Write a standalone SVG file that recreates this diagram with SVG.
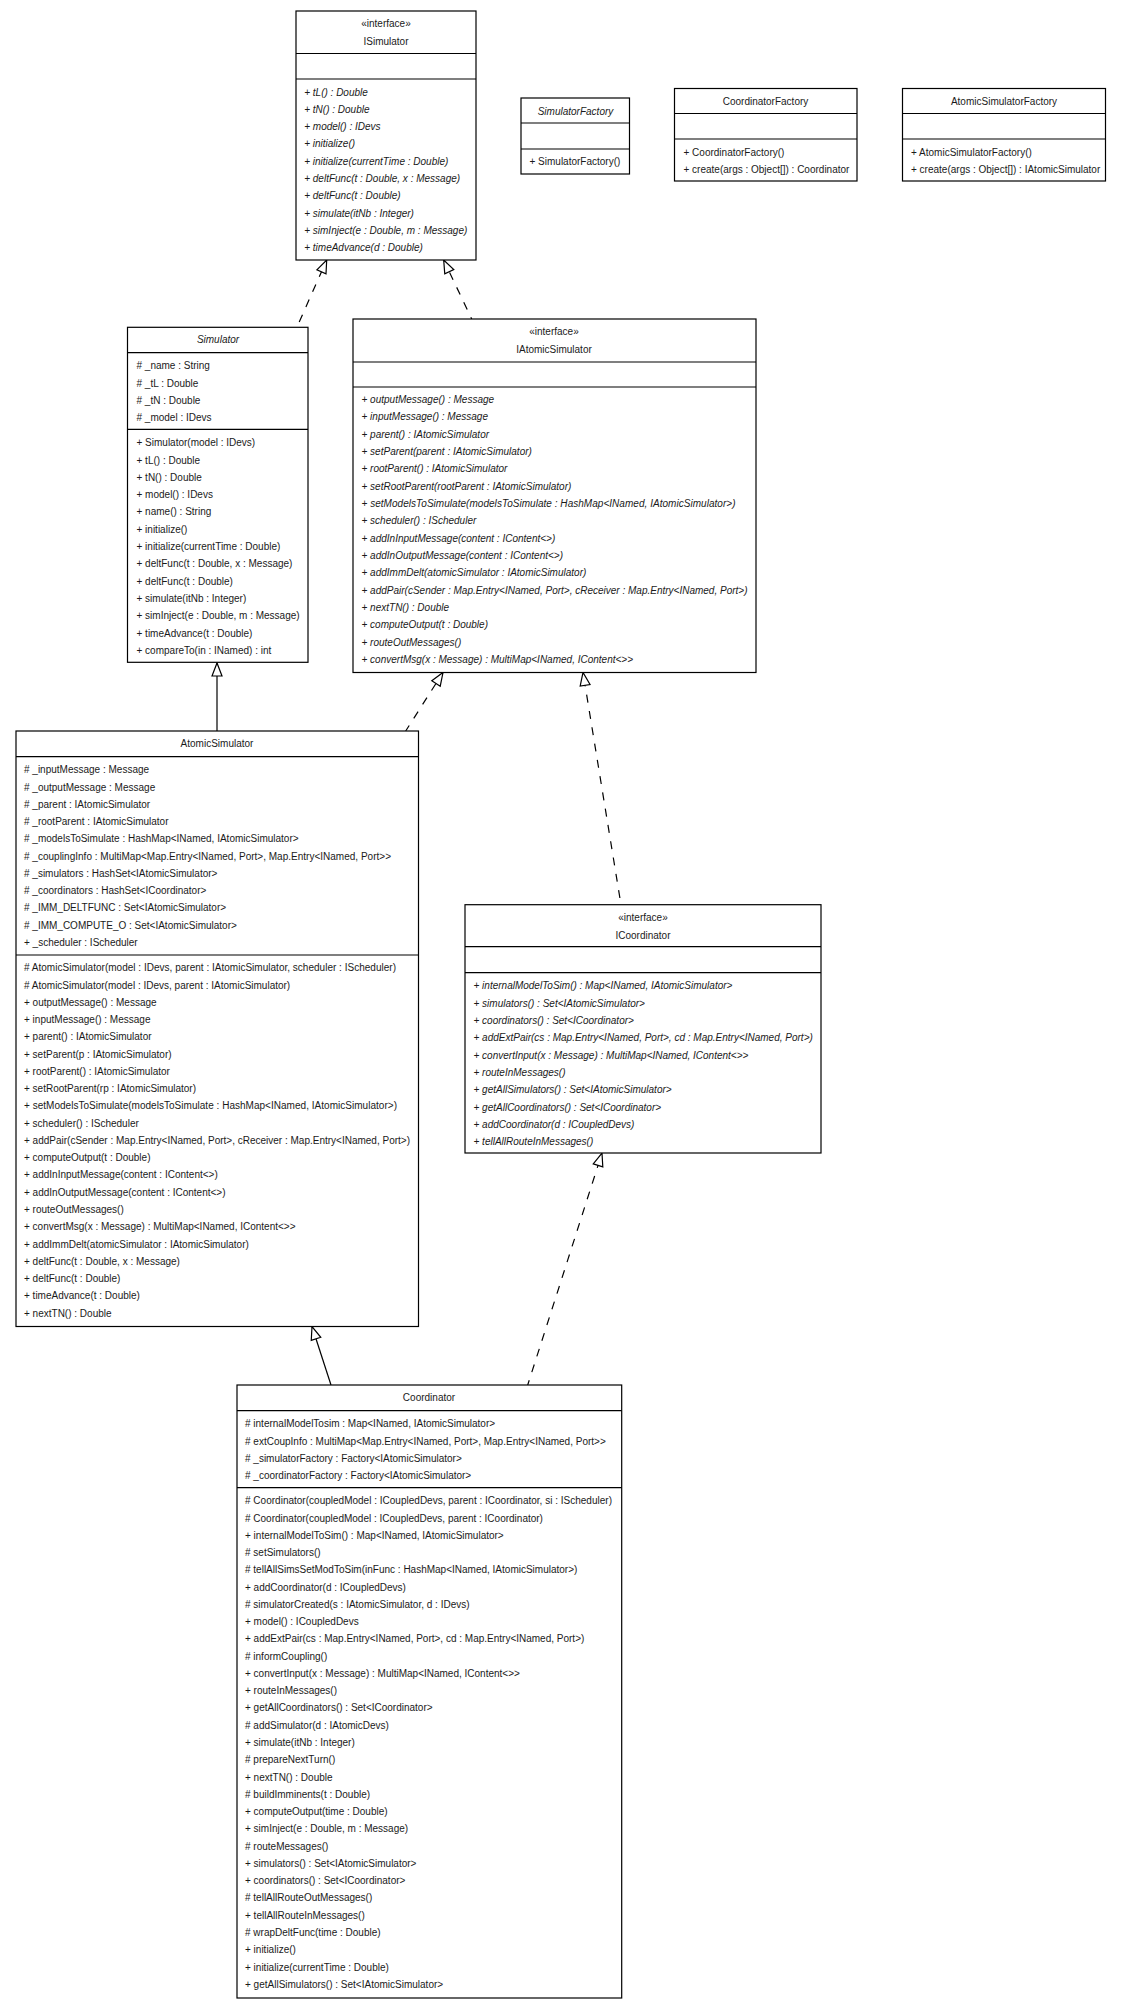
<svg xmlns="http://www.w3.org/2000/svg" width="1125" height="2009" viewBox="0 0 1125 2009">
<style>
text{font-family:"Liberation Sans",Arial,sans-serif;font-size:10px;fill:#1a1a1a}
.c{text-anchor:middle}
.i{font-style:italic}
.b{fill:#fff;stroke:#000;stroke-width:1.2}
.l{stroke:#000;stroke-width:1.2;fill:none}
.s{stroke:#000;stroke-width:1.2;fill:none}
.d{stroke-dasharray:8 8.5}
</style>
<defs>
<marker id="h" markerUnits="userSpaceOnUse" markerWidth="16" markerHeight="12" refX="14" refY="6" orient="auto" overflow="visible"><path d="M1,1 L14,6 L1,11 Z" fill="#fff" stroke="#000" stroke-width="1.2"/></marker>
</defs>
<rect width="1125" height="2009" fill="#fff"/>
<g id="connectors">
<path class="s d" stroke-dashoffset="11" marker-end="url(#h)" d="M297,327 L326.7,260"/>
<path class="s d" stroke-dashoffset="6" marker-end="url(#h)" d="M471.7,319 L443.7,260"/>
<path class="s" marker-end="url(#h)" d="M217,731 L217,663"/>
<path class="s d" stroke-dashoffset="1.5" marker-end="url(#h)" d="M405.7,731 L443,672.5"/>
<path class="s d" stroke-dashoffset="9.7" marker-end="url(#h)" d="M621,904.7 L583,672.5"/>
<path class="s d" stroke-dashoffset="3" marker-end="url(#h)" d="M527.7,1385 L602,1153"/>
<path class="s" marker-end="url(#h)" d="M331,1385 L312,1326.5"/>
</g>
<g id="ISimulator">
<rect class="b" x="296" y="11" width="180" height="249"/>
<path class="l" d="M296,53.5H476M296,79H476"/>
<text class="c" x="386" y="27">«interface»</text>
<text class="c" x="386" y="45">ISimulator</text>
<g class="i">
<text x="304.2" y="95.5">+ tL() : Double</text>
<text x="304.2" y="112.8">+ tN() : Double</text>
<text x="304.2" y="130.1">+ model() : IDevs</text>
<text x="304.2" y="147.4">+ initialize()</text>
<text x="304.2" y="164.7">+ initialize(currentTime : Double)</text>
<text x="304.2" y="182">+ deltFunc(t : Double, x : Message)</text>
<text x="304.2" y="199.3">+ deltFunc(t : Double)</text>
<text x="304.2" y="216.6">+ simulate(itNb : Integer)</text>
<text x="304.2" y="233.9">+ simInject(e : Double, m : Message)</text>
<text x="304.2" y="251.2">+ timeAdvance(d : Double)</text>
</g>
</g>
<g id="SimulatorFactory">
<rect class="b" x="521" y="98" width="108.5" height="76"/>
<path class="l" d="M521,123H629.5M521,149H629.5"/>
<text class="c i" x="575.5" y="115">SimulatorFactory</text>
<text x="529.5" y="165">+ SimulatorFactory()</text>
</g>
<g id="CoordinatorFactory">
<rect class="b" x="674.5" y="88.5" width="182.5" height="92.5"/>
<path class="l" d="M674.5,113.5H857M674.5,139H857"/>
<text class="c" x="765.5" y="105">CoordinatorFactory</text>
<text x="683.5" y="155.5">+ CoordinatorFactory()</text>
<text x="683.5" y="173">+ create(args : Object[]) : Coordinator</text>
</g>
<g id="AtomicSimulatorFactory">
<rect class="b" x="902.5" y="88.5" width="203" height="92.5"/>
<path class="l" d="M902.5,113.5H1105.5M902.5,139H1105.5"/>
<text class="c" x="1004" y="105">AtomicSimulatorFactory</text>
<text x="911" y="155.5">+ AtomicSimulatorFactory()</text>
<text x="911" y="173">+ create(args : Object[]) : IAtomicSimulator</text>
</g>
<g id="Simulator">
<rect class="b" x="127.5" y="327.3" width="180.5" height="335"/>
<path class="l" d="M127.5,352.7H308M127.5,429.3H308"/>
<text class="c i" x="218" y="343">Simulator</text>
<text x="136.5" y="369.2"># _name : String</text>
<text x="136.5" y="386.5"># _tL : Double</text>
<text x="136.5" y="403.8"># _tN : Double</text>
<text x="136.5" y="421"># _model : IDevs</text>
<text x="136.5" y="446.2">+ Simulator(model : IDevs)</text>
<text x="136.5" y="463.5">+ tL() : Double</text>
<text x="136.5" y="480.8">+ tN() : Double</text>
<text x="136.5" y="498.1">+ model() : IDevs</text>
<text x="136.5" y="515.4">+ name() : String</text>
<text x="136.5" y="532.7">+ initialize()</text>
<text x="136.5" y="550">+ initialize(currentTime : Double)</text>
<text x="136.5" y="567.3">+ deltFunc(t : Double, x : Message)</text>
<text x="136.5" y="584.6">+ deltFunc(t : Double)</text>
<text x="136.5" y="601.9">+ simulate(itNb : Integer)</text>
<text x="136.5" y="619.2">+ simInject(e : Double, m : Message)</text>
<text x="136.5" y="636.5">+ timeAdvance(t : Double)</text>
<text x="136.5" y="653.8">+ compareTo(in : INamed) : int</text>
</g>
<g id="IAtomicSimulator">
<rect class="b" x="353" y="319" width="403" height="353.5"/>
<path class="l" d="M353,362H756M353,387H756"/>
<text class="c" x="554" y="335">«interface»</text>
<text class="c" x="554" y="353">IAtomicSimulator</text>
<g class="i">
<text x="361.5" y="403">+ outputMessage() : Message</text>
<text x="361.5" y="420.3">+ inputMessage() : Message</text>
<text x="361.5" y="437.7">+ parent() : IAtomicSimulator</text>
<text x="361.5" y="455">+ setParent(parent : IAtomicSimulator)</text>
<text x="361.5" y="472.3">+ rootParent() : IAtomicSimulator</text>
<text x="361.5" y="489.7">+ setRootParent(rootParent : IAtomicSimulator)</text>
<text x="361.5" y="507" textLength="374">+ setModelsToSimulate(modelsToSimulate : HashMap&lt;INamed, IAtomicSimulator&gt;)</text>
<text x="361.5" y="524.3">+ scheduler() : IScheduler</text>
<text x="361.5" y="541.7">+ addInInputMessage(content : IContent&lt;&gt;)</text>
<text x="361.5" y="559">+ addInOutputMessage(content : IContent&lt;&gt;)</text>
<text x="361.5" y="576.3">+ addImmDelt(atomicSimulator : IAtomicSimulator)</text>
<text x="361.5" y="593.7">+ addPair(cSender : Map.Entry&lt;INamed, Port&gt;, cReceiver : Map.Entry&lt;INamed, Port&gt;)</text>
<text x="361.5" y="611">+ nextTN() : Double</text>
<text x="361.5" y="628.3">+ computeOutput(t : Double)</text>
<text x="361.5" y="645.7">+ routeOutMessages()</text>
<text x="361.5" y="663">+ convertMsg(x : Message) : MultiMap&lt;INamed, IContent&lt;&gt;&gt;</text>
</g>
</g>
<g id="AtomicSimulator">
<rect class="b" x="16" y="731" width="402.5" height="595.5"/>
<path class="l" d="M16,756.7H418.5M16,955H418.5"/>
<text class="c" x="217" y="747">AtomicSimulator</text>
<text x="24" y="773.2"># _inputMessage : Message</text>
<text x="24" y="790.5"># _outputMessage : Message</text>
<text x="24" y="807.7"># _parent : IAtomicSimulator</text>
<text x="24" y="825"># _rootParent : IAtomicSimulator</text>
<text x="24" y="842.2"># _modelsToSimulate : HashMap&lt;INamed, IAtomicSimulator&gt;</text>
<text x="24" y="859.5" textLength="367"># _couplingInfo : MultiMap&lt;Map.Entry&lt;INamed, Port&gt;, Map.Entry&lt;INamed, Port&gt;&gt;</text>
<text x="24" y="876.8"># _simulators : HashSet&lt;IAtomicSimulator&gt;</text>
<text x="24" y="894"># _coordinators : HashSet&lt;ICoordinator&gt;</text>
<text x="24" y="911.3"># _IMM_DELTFUNC : Set&lt;IAtomicSimulator&gt;</text>
<text x="24" y="928.5"># _IMM_COMPUTE_O : Set&lt;IAtomicSimulator&gt;</text>
<text x="24" y="945.8">+ _scheduler : IScheduler</text>
<text x="24" y="971.2" textLength="372"># AtomicSimulator(model : IDevs, parent : IAtomicSimulator, scheduler : IScheduler)</text>
<text x="24" y="988.5"># AtomicSimulator(model : IDevs, parent : IAtomicSimulator)</text>
<text x="24" y="1005.7">+ outputMessage() : Message</text>
<text x="24" y="1023">+ inputMessage() : Message</text>
<text x="24" y="1040.3">+ parent() : IAtomicSimulator</text>
<text x="24" y="1057.6">+ setParent(p : IAtomicSimulator)</text>
<text x="24" y="1074.8">+ rootParent() : IAtomicSimulator</text>
<text x="24" y="1092.1">+ setRootParent(rp : IAtomicSimulator)</text>
<text x="24" y="1109.4" textLength="373">+ setModelsToSimulate(modelsToSimulate : HashMap&lt;INamed, IAtomicSimulator&gt;)</text>
<text x="24" y="1126.6">+ scheduler() : IScheduler</text>
<text x="24" y="1143.9">+ addPair(cSender : Map.Entry&lt;INamed, Port&gt;, cReceiver : Map.Entry&lt;INamed, Port&gt;)</text>
<text x="24" y="1161.2">+ computeOutput(t : Double)</text>
<text x="24" y="1178.4">+ addInInputMessage(content : IContent&lt;&gt;)</text>
<text x="24" y="1195.7">+ addInOutputMessage(content : IContent&lt;&gt;)</text>
<text x="24" y="1213">+ routeOutMessages()</text>
<text x="24" y="1230.2">+ convertMsg(x : Message) : MultiMap&lt;INamed, IContent&lt;&gt;&gt;</text>
<text x="24" y="1247.5">+ addImmDelt(atomicSimulator : IAtomicSimulator)</text>
<text x="24" y="1264.8">+ deltFunc(t : Double, x : Message)</text>
<text x="24" y="1282">+ deltFunc(t : Double)</text>
<text x="24" y="1299.3">+ timeAdvance(t : Double)</text>
<text x="24" y="1316.6">+ nextTN() : Double</text>
</g>
<g id="ICoordinator">
<rect class="b" x="465" y="904.7" width="356" height="248.3"/>
<path class="l" d="M465,946.7H821M465,972.7H821"/>
<text class="c" x="643" y="921">«interface»</text>
<text class="c" x="643" y="938.7">ICoordinator</text>
<g class="i">
<text x="473.5" y="989.2">+ internalModelToSim() : Map&lt;INamed, IAtomicSimulator&gt;</text>
<text x="473.5" y="1006.5">+ simulators() : Set&lt;IAtomicSimulator&gt;</text>
<text x="473.5" y="1023.9">+ coordinators() : Set&lt;ICoordinator&gt;</text>
<text x="473.5" y="1041.2">+ addExtPair(cs : Map.Entry&lt;INamed, Port&gt;, cd : Map.Entry&lt;INamed, Port&gt;)</text>
<text x="473.5" y="1058.5">+ convertInput(x : Message) : MultiMap&lt;INamed, IContent&lt;&gt;&gt;</text>
<text x="473.5" y="1075.9">+ routeInMessages()</text>
<text x="473.5" y="1093.2">+ getAllSimulators() : Set&lt;IAtomicSimulator&gt;</text>
<text x="473.5" y="1110.5">+ getAllCoordinators() : Set&lt;ICoordinator&gt;</text>
<text x="473.5" y="1127.9">+ addCoordinator(d : ICoupledDevs)</text>
<text x="473.5" y="1145.2">+ tellAllRouteInMessages()</text>
</g>
</g>
<g id="Coordinator">
<rect class="b" x="237" y="1385" width="384.7" height="613"/>
<path class="l" d="M237,1410.7H621.7M237,1487.7H621.7"/>
<text class="c" x="429" y="1401">Coordinator</text>
<text x="245" y="1427.2"># internalModelTosim : Map&lt;INamed, IAtomicSimulator&gt;</text>
<text x="245" y="1444.5"># extCoupInfo : MultiMap&lt;Map.Entry&lt;INamed, Port&gt;, Map.Entry&lt;INamed, Port&gt;&gt;</text>
<text x="245" y="1461.8"># _simulatorFactory : Factory&lt;IAtomicSimulator&gt;</text>
<text x="245" y="1479.1"># _coordinatorFactory : Factory&lt;IAtomicSimulator&gt;</text>
<text x="245" y="1504.2" textLength="367"># Coordinator(coupledModel : ICoupledDevs, parent : ICoordinator, si : IScheduler)</text>
<text x="245" y="1521.5"># Coordinator(coupledModel : ICoupledDevs, parent : ICoordinator)</text>
<text x="245" y="1538.7">+ internalModelToSim() : Map&lt;INamed, IAtomicSimulator&gt;</text>
<text x="245" y="1556"># setSimulators()</text>
<text x="245" y="1573.3"># tellAllSimsSetModToSim(inFunc : HashMap&lt;INamed, IAtomicSimulator&gt;)</text>
<text x="245" y="1590.6">+ addCoordinator(d : ICoupledDevs)</text>
<text x="245" y="1607.8"># simulatorCreated(s : IAtomicSimulator, d : IDevs)</text>
<text x="245" y="1625.1">+ model() : ICoupledDevs</text>
<text x="245" y="1642.4">+ addExtPair(cs : Map.Entry&lt;INamed, Port&gt;, cd : Map.Entry&lt;INamed, Port&gt;)</text>
<text x="245" y="1659.6"># informCoupling()</text>
<text x="245" y="1676.9">+ convertInput(x : Message) : MultiMap&lt;INamed, IContent&lt;&gt;&gt;</text>
<text x="245" y="1694.2">+ routeInMessages()</text>
<text x="245" y="1711.4">+ getAllCoordinators() : Set&lt;ICoordinator&gt;</text>
<text x="245" y="1728.7"># addSimulator(d : IAtomicDevs)</text>
<text x="245" y="1746">+ simulate(itNb : Integer)</text>
<text x="245" y="1763.2"># prepareNextTurn()</text>
<text x="245" y="1780.5">+ nextTN() : Double</text>
<text x="245" y="1797.8"># buildImminents(t : Double)</text>
<text x="245" y="1815">+ computeOutput(time : Double)</text>
<text x="245" y="1832.3">+ simInject(e : Double, m : Message)</text>
<text x="245" y="1849.6"># routeMessages()</text>
<text x="245" y="1866.9">+ simulators() : Set&lt;IAtomicSimulator&gt;</text>
<text x="245" y="1884.1">+ coordinators() : Set&lt;ICoordinator&gt;</text>
<text x="245" y="1901.4"># tellAllRouteOutMessages()</text>
<text x="245" y="1918.7">+ tellAllRouteInMessages()</text>
<text x="245" y="1935.9"># wrapDeltFunc(time : Double)</text>
<text x="245" y="1953.2">+ initialize()</text>
<text x="245" y="1970.5">+ initialize(currentTime : Double)</text>
<text x="245" y="1987.8">+ getAllSimulators() : Set&lt;IAtomicSimulator&gt;</text>
</g>
</svg>
